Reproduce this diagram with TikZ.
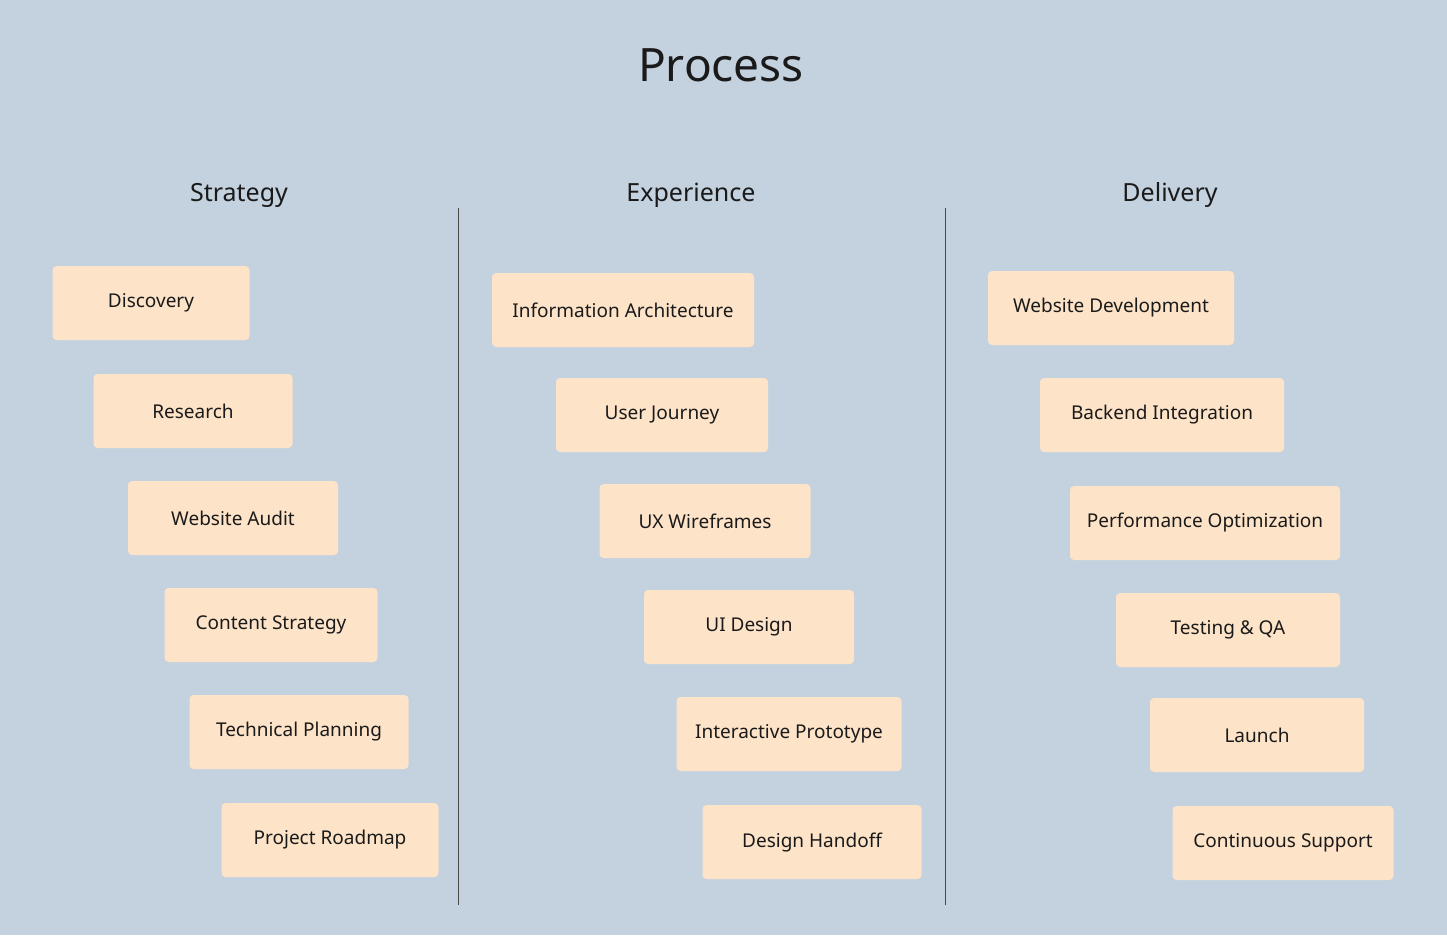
\documentclass[tikz,border=0pt]{standalone}
\usepackage{fontspec}
\setmainfont{Noto Sans}
\definecolor{bg}{HTML}{C4D1DE}
\definecolor{card}{HTML}{FDE3C8}
\definecolor{ink}{HTML}{1A1A1A}
\tikzset{
  card/.style={fill=card, rounded corners=4pt, minimum height=74pt,
    inner sep=0pt, font=\fontsize{19}{22}\selectfont, text=ink},
  head/.style={font=\fontsize{25}{30}\selectfont, text=ink},
  divider/.style={draw=ink!80, line width=1pt}
}
\begin{document}
\begin{tikzpicture}[x=1pt,y=-1pt]
  \fill[bg] (0,0) rectangle (1447,935);
  \useasboundingbox (0,0) rectangle (1447,935);
  \node[font=\fontsize{46}{52}\selectfont\bfseries, text=ink] (title) at (721,65) {Process};
  % column heads
  \node[head] (strategy) at (239,195) {Strategy};
  \node[head] (experience) at (691,195) {Experience};
  \node[head] (delivery) at (1170,195) {Delivery};
  % dividers
  \coordinate (d1top) at (458,208);
  \coordinate (d1bot) at (458,905);
  \coordinate (d2top) at (945,208);
  \coordinate (d2bot) at (945,905);
  \draw[divider] (d1top) -- (d1bot);
  \draw[divider] (d2top) -- (d2bot);
  % strategy
  \node[card, minimum width=197pt] (discovery) at (151,303) {Discovery};
  \node[card, minimum width=199pt] (research) at (193,411) {Research};
  \node[card, minimum width=210pt] (audit) at (233,518) {Website Audit};
  \node[card, minimum width=213pt] (content) at (271,625) {Content Strategy};
  \node[card, minimum width=219pt] (planning) at (299,732) {Technical Planning};
  \node[card, minimum width=217pt] (roadmap) at (330,840) {Project Roadmap};
  % experience
  \node[card, minimum width=262pt] (ia) at (623,310) {Information Architecture};
  \node[card, minimum width=212pt] (journey) at (662,415) {User Journey};
  \node[card, minimum width=211pt] (wireframes) at (705,521) {UX Wireframes};
  \node[card, minimum width=210pt] (uidesign) at (749,627) {UI Design};
  \node[card, minimum width=225pt] (prototype) at (789,734) {Interactive Prototype};
  \node[card, minimum width=219pt] (handoff) at (812,842) {Design Handoff};
  % delivery
  \node[card, minimum width=246pt] (webdev) at (1111,308) {Website Development};
  \node[card, minimum width=244pt] (backend) at (1162,415) {Backend Integration};
  \node[card, minimum width=270pt] (perf) at (1205,523) {Performance Optimization};
  \node[card, minimum width=224pt] (testing) at (1228,630) {Testing \& QA};
  \node[card, minimum width=214pt] (launch) at (1257,735) {Launch};
  \node[card, minimum width=221pt] (support) at (1283,843) {Continuous Support};
\end{tikzpicture}
\end{document}
